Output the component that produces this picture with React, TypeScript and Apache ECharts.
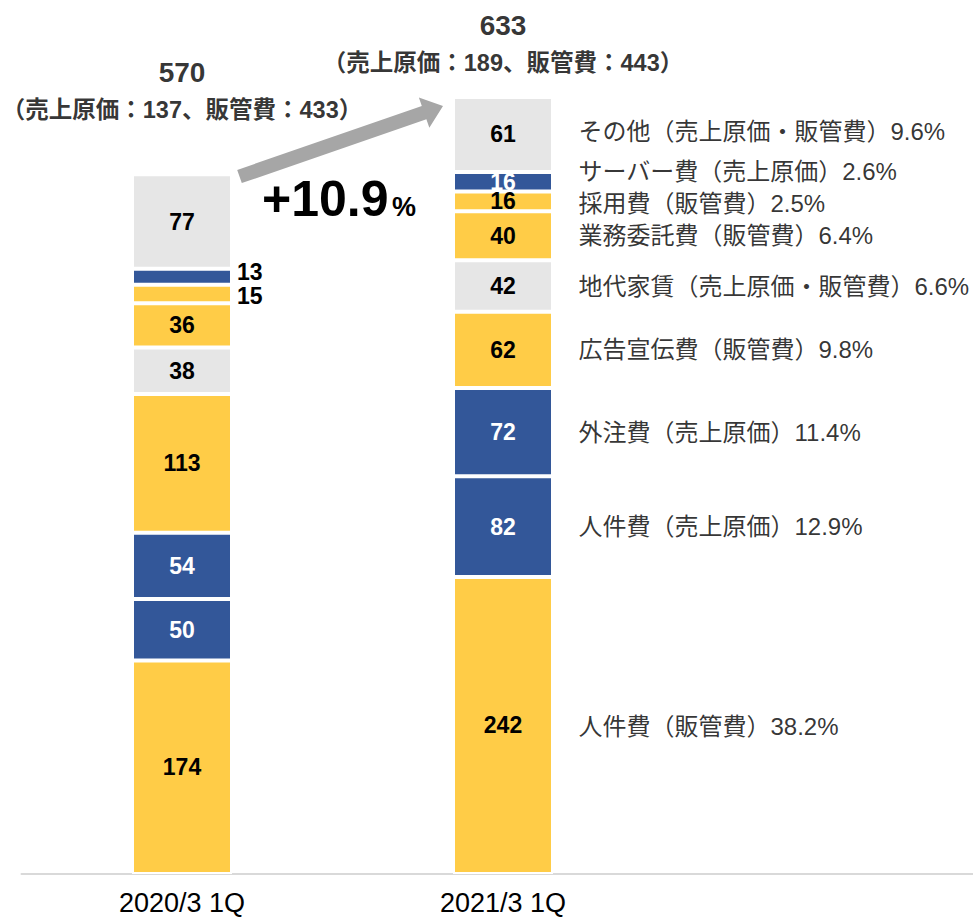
import React, { useEffect, useRef } from "react";
import * as echarts from "echarts";

const categories = ["2020/3 1Q", "2021/3 1Q", ""];
const seriesNames = [
  "人件費（販管費）",
  "人件費（売上原価）",
  "外注費（売上原価）",
  "広告宣伝費（販管費）",
  "地代家賃（売上原価・販管費）",
  "業務委託費（販管費）",
  "採用費（販管費）",
  "サーバー費（売上原価）",
  "その他（売上原価・販管費）",
];
const values2020 = [174, 50, 54, 113, 38, 36, 15, 13, 77];
const values2021 = [242, 82, 72, 62, 42, 40, 16, 16, 61];
const shares2021 = ["38.2%", "12.9%", "11.4%", "9.8%", "6.6%", "6.4%", "2.5%", "2.6%", "9.6%"];
const colorKinds = ["yellow", "blue", "blue", "yellow", "grey", "yellow", "yellow", "blue", "grey"];
const totals = [570, 633];
const costOfSales = [137, 189];
const sga = [433, 443];
const growthText = "+10.9";

// styling
const COLORS: Record<string, string> = { yellow: "#FFCC47", blue: "#335799", grey: "#E6E6E6" };
const FONT = "'Liberation Sans', Arial, 'Noto Sans CJK JP', sans-serif";
const rightLabelNudge = [1, 0, 0, 0, 0, 0, 2, -10, -3];
const smallOutside2020: Record<number, number> = { 6: 2, 7: -5 };
const totalLabelDistance = [49, 19];

export default function App() {
  const ref = useRef<HTMLDivElement>(null);
  useEffect(() => {
    if (!ref.current) return;
    const chart = echarts.init(ref.current, undefined, { renderer: "svg" });

    const barSeries = seriesNames.map((name, i) => {
      const dark = colorKinds[i] === "blue";
      const d2020: any = { value: values2020[i] };
      if (smallOutside2020[i] !== undefined) {
        d2020.label = { position: "right", distance: 5, color: "#000", offset: [0, smallOutside2020[i]] };
      }
      return {
        type: "bar",
        name,
        stack: "total",
        barWidth: 100,
        data: [d2020, { value: values2021[i] }, "-"],
        itemStyle: { color: COLORS[colorKinds[i]], borderColor: "#fff", borderWidth: 2 },
        label: {
          show: true,
          position: "inside",
          fontFamily: FONT,
          fontSize: 23,
          fontWeight: "bold",
          color: dark ? "#fff" : "#000",
        },
        silent: true,
      };
    });

    // right-hand description labels at 2021 segment centers
    let cum = 0;
    const rightData = values2021.map((v, i) => {
      const center = cum + v / 2;
      cum += v;
      return {
        value: [1, center],
        name: seriesNames[i],
        label: { offset: [0, rightLabelNudge[i]] },
      };
    });

    const totalData = totals.map((t, i) => ({
      value: [i, t],
      label: { distance: totalLabelDistance[i] },
    }));

    const option: any = {
      animation: false,
      grid: { left: 21.5, width: 963, top: 97, bottom: 44, outerBoundsMode: "none", containLabel: false },
      xAxis: {
        type: "category",
        data: categories,
        axisLine: { show: true, lineStyle: { color: "#D9D9D9", width: 2 } },
        axisTick: { show: false },
        axisLabel: { fontFamily: FONT, fontSize: 27, color: "#000", margin: 15 },
        splitLine: { show: false },
      },
      yAxis: { type: "value", min: 0, max: 633, show: false, splitLine: { show: false } },
      series: [
        ...barSeries,
        {
          type: "scatter",
          data: rightData,
          symbolSize: 1,
          itemStyle: { color: "rgba(0,0,0,0)" },
          silent: true,
          clip: false,
          label: {
            show: true,
            position: "right",
            distance: 75,
            fontFamily: FONT,
            fontSize: 24,
            color: "#000",
            formatter: (p: any) => p.name + shares2021[p.dataIndex],
          },
        },
        {
          type: "scatter",
          data: totalData,
          symbolSize: 1,
          itemStyle: { color: "rgba(0,0,0,0)" },
          silent: true,
          clip: false,
          label: {
            show: true,
            position: "top",
            fontFamily: FONT,
            formatter: (p: any) =>
              `{a|${totals[p.dataIndex]}}\n{b|（売上原価：${costOfSales[p.dataIndex]}、販管費：${sga[p.dataIndex]}）}`,
            rich: {
              a: { fontFamily: FONT, fontSize: 28, fontWeight: "bold", color: "#000", lineHeight: 44, align: "center" },
              b: { fontFamily: FONT, fontSize: 23.5, fontWeight: "bold", color: "#000", lineHeight: 30, align: "center" },
            },
          },
        },
      ],
    };

    // decorative growth arrow
    const S = [239.5, 176.5];
    const T = [443, 106];
    const dx = T[0] - S[0];
    const dy = T[1] - S[1];
    const len = Math.hypot(dx, dy);
    const u = [dx / len, dy / len];
    const n = [-u[1], u[0]];
    const hw = 7, hh = 16, hl = 20;
    const B = [T[0] - hl * u[0], T[1] - hl * u[1]];
    const pt = (p: number[], k: number) => [p[0] + k * n[0], p[1] + k * n[1]];
    const arrowPts = [pt(S, hw), pt(S, -hw), pt(B, -hw), pt(B, -hh), T, pt(B, hh), pt(B, hw)];

    option.graphic = [
      { type: "polygon", shape: { points: arrowPts }, style: { fill: "#A6A6A6" }, silent: true },
      {
        type: "text",
        x: 262,
        y: 199,
        style: { text: growthText, fontFamily: FONT, fontSize: 50, fontWeight: "bold", fill: "#000", verticalAlign: "middle" },
        silent: true,
      },
      {
        type: "text",
        x: 392,
        y: 207,
        style: { text: "%", fontFamily: FONT, fontSize: 27, fontWeight: "bold", fill: "#000", verticalAlign: "middle" },
        silent: true,
      },
    ];

    chart.setOption(option);
    return () => chart.dispose();
  }, []);

  return (
    <div
      ref={ref}
      style={{ position: "absolute", left: 0, top: 0, width: 973, height: 918, background: "#fff" }}
    />
  );
}
